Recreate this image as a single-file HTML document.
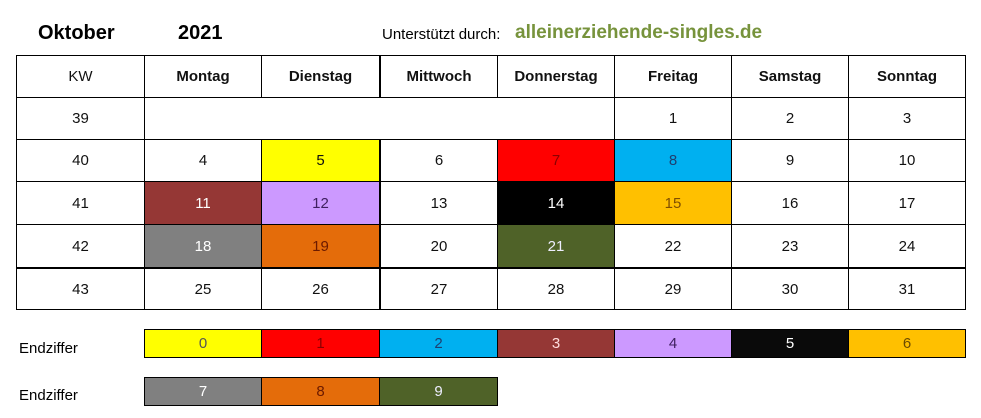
<!DOCTYPE html>
<html><head><meta charset="utf-8"><style>
body{margin:0;width:981px;height:418px;background:#fff;position:relative;overflow:hidden;font-family:"Liberation Sans",sans-serif;}
.c{position:absolute;box-sizing:border-box;border:1px solid #000;display:flex;align-items:center;justify-content:center;font-size:15px;color:#111;}
.b{font-weight:bold;}
.t{position:absolute;white-space:nowrap;}
</style></head><body>
<div class="t b" style="left:38px;top:22px;font-size:20px;">Oktober</div>
<div class="t b" style="left:178px;top:22px;font-size:20px;">2021</div>
<div class="t" style="left:382px;top:26px;font-size:15px;">Unterstützt durch:</div>
<div class="t b" style="left:515px;top:22px;font-size:19px;color:#77933c;">alleinerziehende-singles.de</div>

<!-- header row -->
<div class="c" style="left:16px;top:55px;width:129px;height:43px;">KW</div>
<div class="c b" style="left:144px;top:55px;width:118px;height:43px;">Montag</div>
<div class="c b" style="left:261px;top:55px;width:119px;height:43px;">Dienstag</div>
<div class="c b" style="left:379px;top:55px;width:119px;height:43px;border-left-width:2px;">Mittwoch</div>
<div class="c b" style="left:497px;top:55px;width:118px;height:43px;">Donnerstag</div>
<div class="c b" style="left:614px;top:55px;width:118px;height:43px;">Freitag</div>
<div class="c b" style="left:731px;top:55px;width:118px;height:43px;">Samstag</div>
<div class="c b" style="left:848px;top:55px;width:118px;height:43px;">Sonntag</div>

<!-- 39 -->
<div class="c" style="left:16px;top:97px;width:129px;height:43px;">39</div>
<div class="c" style="left:144px;top:97px;width:471px;height:43px;"></div>
<div class="c" style="left:614px;top:97px;width:118px;height:43px;">1</div>
<div class="c" style="left:731px;top:97px;width:118px;height:43px;">2</div>
<div class="c" style="left:848px;top:97px;width:118px;height:43px;">3</div>

<!-- 40 -->
<div class="c" style="left:16px;top:139px;width:129px;height:43px;">40</div>
<div class="c" style="left:144px;top:139px;width:118px;height:43px;">4</div>
<div class="c" style="left:261px;top:139px;width:119px;height:43px;background:#ffff00;">5</div>
<div class="c" style="left:379px;top:139px;width:119px;height:43px;border-left-width:2px;">6</div>
<div class="c" style="left:497px;top:139px;width:118px;height:43px;background:#ff0000;color:#8b0000;">7</div>
<div class="c" style="left:614px;top:139px;width:118px;height:43px;background:#00b0f0;color:#1f3f6f;">8</div>
<div class="c" style="left:731px;top:139px;width:118px;height:43px;">9</div>
<div class="c" style="left:848px;top:139px;width:118px;height:43px;">10</div>

<!-- 41 -->
<div class="c" style="left:16px;top:181px;width:129px;height:44px;">41</div>
<div class="c" style="left:144px;top:181px;width:118px;height:44px;background:#953735;color:#fff;">11</div>
<div class="c" style="left:261px;top:181px;width:119px;height:44px;background:#cc99ff;color:#3f2060;">12</div>
<div class="c" style="left:379px;top:181px;width:119px;height:44px;border-left-width:2px;">13</div>
<div class="c" style="left:497px;top:181px;width:118px;height:44px;background:#000;color:#fff;">14</div>
<div class="c" style="left:614px;top:181px;width:118px;height:44px;background:#ffc000;color:#7f4f00;">15</div>
<div class="c" style="left:731px;top:181px;width:118px;height:44px;">16</div>
<div class="c" style="left:848px;top:181px;width:118px;height:44px;">17</div>

<!-- 42 -->
<div class="c" style="left:16px;top:224px;width:129px;height:44px;">42</div>
<div class="c" style="left:144px;top:224px;width:118px;height:44px;background:#808080;color:#fff;">18</div>
<div class="c" style="left:261px;top:224px;width:119px;height:44px;background:#e46c0a;color:#6b1a00;">19</div>
<div class="c" style="left:379px;top:224px;width:119px;height:44px;border-left-width:2px;">20</div>
<div class="c" style="left:497px;top:224px;width:118px;height:44px;background:#4f6228;color:#eef;">21</div>
<div class="c" style="left:614px;top:224px;width:118px;height:44px;">22</div>
<div class="c" style="left:731px;top:224px;width:118px;height:44px;">23</div>
<div class="c" style="left:848px;top:224px;width:118px;height:44px;">24</div>

<!-- 43 -->
<div class="c" style="left:16px;top:267px;width:129px;height:43px;border-top-width:2px;">43</div>
<div class="c" style="left:144px;top:267px;width:118px;height:43px;border-top-width:2px;">25</div>
<div class="c" style="left:261px;top:267px;width:119px;height:43px;border-top-width:2px;">26</div>
<div class="c" style="left:379px;top:267px;width:119px;height:43px;border-top-width:2px;border-left-width:2px;">27</div>
<div class="c" style="left:497px;top:267px;width:118px;height:43px;border-top-width:2px;">28</div>
<div class="c" style="left:614px;top:267px;width:118px;height:43px;border-top-width:2px;">29</div>
<div class="c" style="left:731px;top:267px;width:118px;height:43px;border-top-width:2px;">30</div>
<div class="c" style="left:848px;top:267px;width:118px;height:43px;border-top-width:2px;">31</div>

<!-- legend -->
<div class="t" style="left:19px;top:340px;font-size:15px;">Endziffer</div>
<div class="c" style="left:144px;top:329px;width:118px;height:29px;background:#ffff00;color:#555;">0</div>
<div class="c" style="left:261px;top:329px;width:119px;height:29px;background:#ff0000;color:#8b0000;">1</div>
<div class="c" style="left:379px;top:329px;width:119px;height:29px;background:#00b0f0;color:#1f3f6f;">2</div>
<div class="c" style="left:497px;top:329px;width:118px;height:29px;background:#953735;color:#fdd;">3</div>
<div class="c" style="left:614px;top:329px;width:118px;height:29px;background:#cc99ff;color:#3f2060;">4</div>
<div class="c" style="left:731px;top:329px;width:118px;height:29px;background:#0a0a0a;color:#fff;">5</div>
<div class="c" style="left:848px;top:329px;width:118px;height:29px;background:#ffc000;color:#6b4a00;">6</div>

<div class="t" style="left:19px;top:387px;font-size:15px;">Endziffer</div>
<div class="c" style="left:144px;top:377px;width:118px;height:29px;background:#808080;color:#fff;">7</div>
<div class="c" style="left:261px;top:377px;width:119px;height:29px;background:#e46c0a;color:#6b1a00;">8</div>
<div class="c" style="left:379px;top:377px;width:119px;height:29px;background:#4f6228;color:#eef;">9</div>
</body></html>
